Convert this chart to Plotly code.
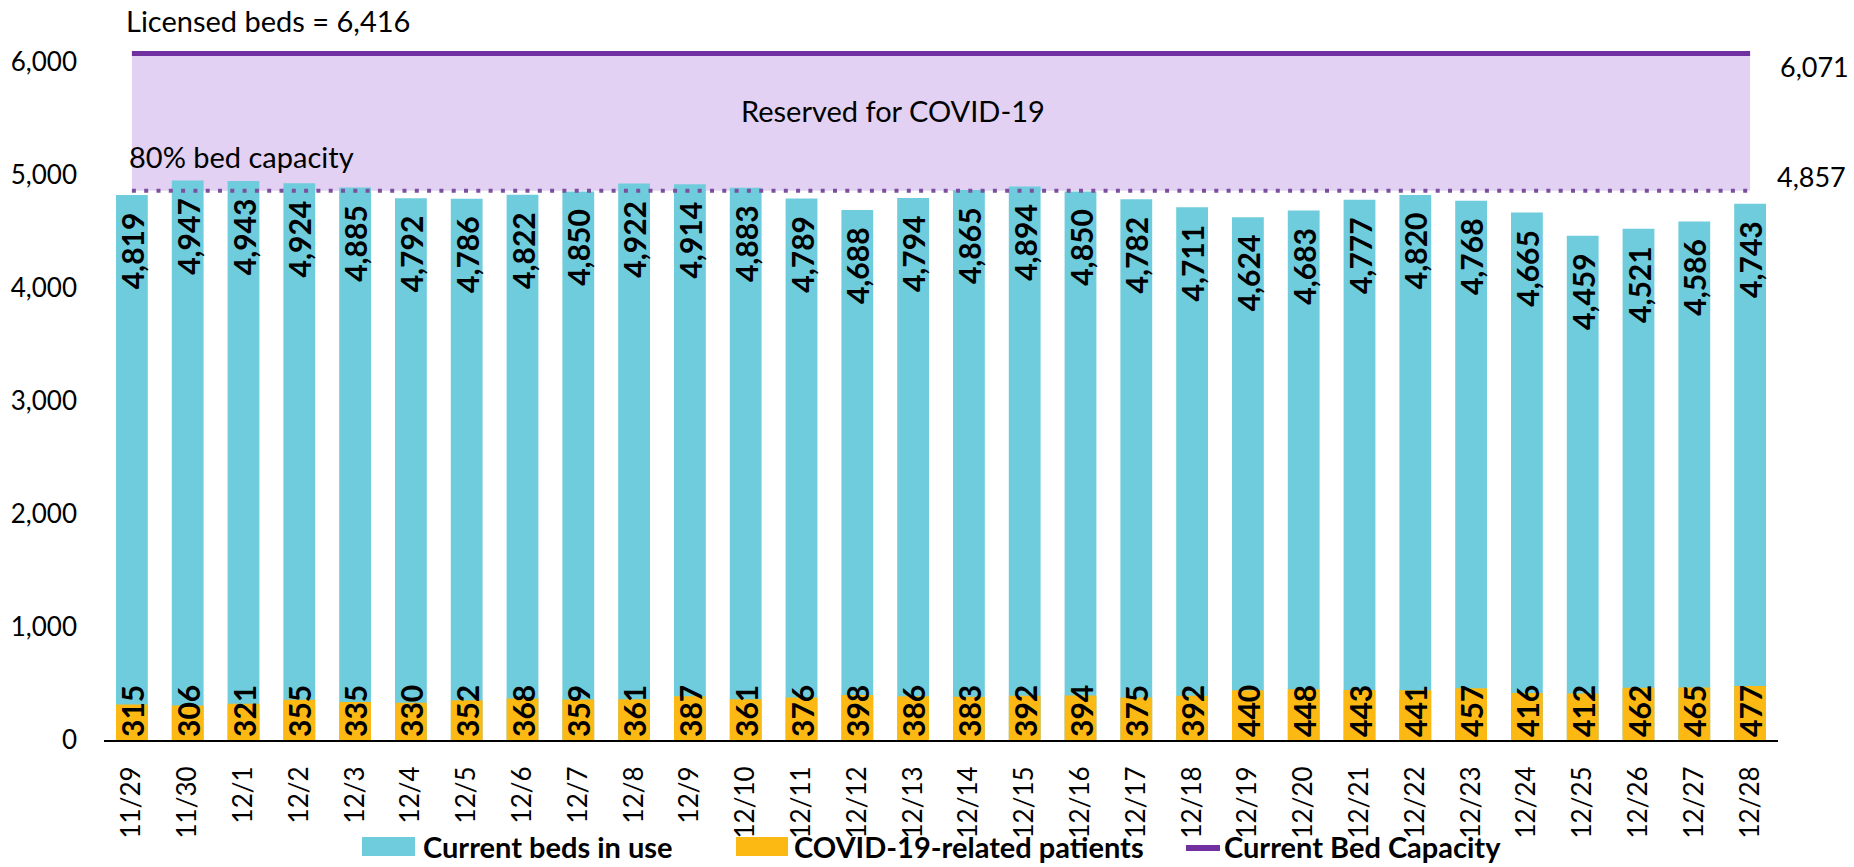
import plotly.graph_objects as go

# ---------------- data ----------------
dates = ["11/29", "11/30", "12/1", "12/2", "12/3", "12/4", "12/5", "12/6", "12/7", "12/8",
         "12/9", "12/10", "12/11", "12/12", "12/13", "12/14", "12/15", "12/16", "12/17", "12/18",
         "12/19", "12/20", "12/21", "12/22", "12/23", "12/24", "12/25", "12/26", "12/27", "12/28"]
beds_in_use = [4819, 4947, 4943, 4924, 4885, 4792, 4786, 4822, 4850, 4922,
               4914, 4883, 4789, 4688, 4794, 4865, 4894, 4850, 4782, 4711,
               4624, 4683, 4777, 4820, 4768, 4665, 4459, 4521, 4586, 4743]
covid_patients = [315, 306, 321, 355, 335, 330, 352, 368, 359, 361,
                  387, 361, 376, 398, 386, 383, 392, 394, 375, 392,
                  440, 448, 443, 441, 457, 416, 412, 462, 465, 477]
bed_capacity = 6071
capacity_80 = 4857
licensed_beds = 6416
y_ticks = [0, 1000, 2000, 3000, 4000, 5000, 6000]

# ---------------- style ----------------
FONT = "Lato, 'Open Sans', sans-serif"
BLUE = "#6ECCDD"
ORANGE = "#FDB913"
PURPLE = "#7030A0"
DOTS = "#7B4F9E"
LAVENDER = "#E2D1F2"

W, H = 1854, 867
ML, MR, MT, MB = 104, 76, 5, 127
PW, PH = W - ML - MR, H - MT - MB


def px_x(x):
    return (x - ML) / PW


def px_y(y):
    return (H - MB - y) / PH


NB = "\u00a0"

fig = go.Figure()

fig.add_trace(go.Bar(
    x=dates, y=beds_in_use, name="Current beds in use",
    marker=dict(color=BLUE, line=dict(width=0)),
    text=[f"{v:,}{NB}{NB}" for v in beds_in_use], textposition="inside",
    insidetextanchor="end", textangle=-90, constraintext="none",
    textfont=dict(family=FONT, size=30, color="black", weight="bold"),
    showlegend=False,
))
fig.add_trace(go.Bar(
    x=dates, y=covid_patients, name="COVID-19-related patients",
    marker=dict(color=ORANGE, line=dict(width=0)),
    text=[f"{v:,}" for v in covid_patients], textposition="inside",
    insidetextanchor="start", textangle=-90, constraintext="none",
    textfont=dict(family=FONT, size=30, color="black", weight="bold"),
    showlegend=False,
))
fig.add_trace(go.Scatter(
    x=dates, y=[bed_capacity] * len(dates), mode="lines", name="Current Bed Capacity",
    line=dict(color=PURPLE, width=5), showlegend=False, hoverinfo="skip",
))
fig.add_trace(go.Scatter(
    x=dates, y=[capacity_80] * len(dates), mode="lines", name="80% bed capacity",
    line=dict(color=DOTS, width=4, dash="4px,8.3px"), showlegend=False, hoverinfo="skip",
))

shapes = [
    dict(type="rect", xref="x", yref="y", x0=dates[0], x1=dates[-1],
         y0=capacity_80, y1=bed_capacity, fillcolor=LAVENDER, line=dict(width=0), layer="below"),
]

annotations = [
    dict(xref="paper", yref="paper", x=px_x(124), y=px_y(20), xanchor="left", yanchor="middle",
         text=f"Licensed beds = {licensed_beds:,}", showarrow=False,
         font=dict(family=FONT, size=29, color="black")),
    dict(xref="paper", yref="y", x=px_x(127), y=capacity_80, yshift=34, xanchor="left", yanchor="middle",
         text="80% bed capacity", showarrow=False,
         font=dict(family=FONT, size=29, color="black")),
    dict(xref="paper", yref="y", x=px_x(893), y=(capacity_80 + bed_capacity) / 2, yshift=12,
         xanchor="center", yanchor="middle", text="Reserved for COVID-19", showarrow=False,
         font=dict(family=FONT, size=29, color="black")),
    dict(xref="paper", yref="y", x=1.0, y=bed_capacity, yshift=-13, xanchor="left", yanchor="middle",
         text=f"{bed_capacity:,}", showarrow=False, font=dict(family=FONT, size=27, color="black")),
    dict(xref="paper", yref="y", x=1.0, y=capacity_80, yshift=14, xanchor="left", yanchor="middle",
         xshift=-3,
         text=f"{capacity_80:,}", showarrow=False, font=dict(family=FONT, size=27, color="black")),
]

# custom legend
leg_y = 846
legend_items = [
    ("rect", BLUE, 362, 415, 421, "Current beds in use"),
    ("rect", ORANGE, 736, 788, 792, "COVID-19-related patients"),
    ("line", PURPLE, 1186, 1220, 1222, "Current Bed Capacity"),
]
for kind, color, x0, x1, tx, label in legend_items:
    if kind == "rect":
        shapes.append(dict(type="rect", xref="paper", yref="paper",
                           x0=px_x(x0), x1=px_x(x1), y0=px_y(leg_y + 10), y1=px_y(leg_y - 9),
                           fillcolor=color, line=dict(width=0), layer="above"))
    else:
        shapes.append(dict(type="line", xref="paper", yref="paper",
                           x0=px_x(x0), x1=px_x(x1), y0=px_y(leg_y + 2), y1=px_y(leg_y + 2),
                           line=dict(color=color, width=6), layer="above"))
    annotations.append(dict(xref="paper", yref="paper", x=px_x(tx), y=px_y(leg_y),
                            xanchor="left", yanchor="middle", text=f"<b>{label}</b>", showarrow=False,
                            font=dict(family=FONT, size=29, color="black")))

fig.update_layout(
    width=W, height=H,
    margin=dict(l=ML, r=MR, t=MT, b=MB, pad=0),
    paper_bgcolor="white", plot_bgcolor="white",
    barmode="overlay", bargap=0.43,
    font=dict(family=FONT, size=25, color="black"),
    shapes=shapes, annotations=annotations,
    showlegend=False,
    xaxis=dict(type="category", showline=True, linecolor="black", linewidth=2,
               showgrid=False, zeroline=False, ticks="", tickangle=-90,
               tickfont=dict(family=FONT, size=26, color="black"), ticklabelstandoff=14),
    yaxis=dict(range=[0, 6500], tickvals=y_ticks, tickformat=",", showgrid=False,
               zeroline=False, showline=False, ticks="",
               tickfont=dict(family=FONT, size=26, color="black"), ticklabelstandoff=26),
)

fig.write_html("out.html", config={"displayModeBar": False},
               post_script="document.body.style.margin='0';")
